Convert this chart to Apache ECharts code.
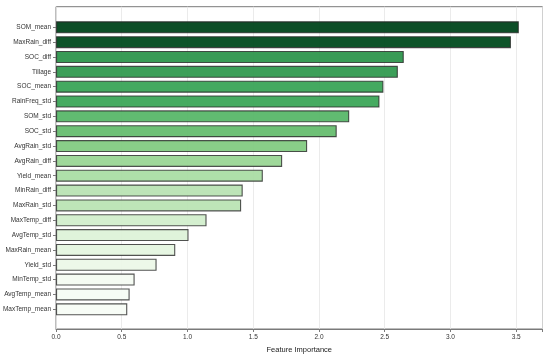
<!DOCTYPE html>
<html>
<head>
<meta charset="utf-8">
<script src="https://cdn.jsdelivr.net/npm/echarts@6/dist/echarts.min.js"></script>
<style>html,body{margin:0;padding:0;background:#fff}#c{width:550px;height:354px}</style>
</head>
<body>
<div id="c"></div>
<script>
const features = ["SOM_mean","MaxRain_diff","SOC_diff","Tillage","SOC_mean","RainFreq_std","SOM_std","SOC_std","AvgRain_std","AvgRain_diff","Yield_mean","MinRain_diff","MaxRain_std","MaxTemp_diff","AvgTemp_std","MaxRain_mean","Yield_std","MinTemp_std","AvgTemp_mean","MaxTemp_mean"];
const importance = [3.52,3.46,2.645,2.60,2.49,2.46,2.23,2.135,1.91,1.72,1.573,1.42,1.408,1.145,1.008,0.907,0.765,0.598,0.56,0.542];
const xTicks = [0,0.5,1.0,1.5,2.0,2.5,3.0,3.5];

const greens = ["#f7fcf5","#e5f5e0","#c7e9c0","#a1d99b","#74c476","#41ab5d","#238b45","#006d2c","#00441b"];
function hex2rgb(h){return [parseInt(h.slice(1,3),16),parseInt(h.slice(3,5),16),parseInt(h.slice(5,7),16)];}
function cmap(t){
  t=Math.max(0,Math.min(1,t));
  const p=t*(greens.length-1), i=Math.min(Math.floor(p),greens.length-2), f=p-i;
  const a=hex2rgb(greens[i]), b=hex2rgb(greens[i+1]);
  return a.map((v,k)=>Math.round(v+(b[k]-v)*f));
}
const vmin=Math.min(...importance), vmax=Math.max(...importance);
const barData = importance.map(v=>{
  const c=cmap((v-vmin)/(vmax-vmin));
  return {value:v,itemStyle:{color:`rgba(${c[0]},${c[1]},${c[2]},0.95)`}};
});

const FONT='"Liberation Sans", Arial, sans-serif';
const chart = echarts.init(document.getElementById('c'),null,{renderer:'canvas'});
chart.setOption({
  animation:false,
  backgroundColor:'#fff',
  grid:[
    {left:56,right:7.5,top:6.7,bottom:25,outerBoundsMode:'none',containLabel:false,show:true,borderColor:'#7a7a7a',borderWidth:1,backgroundColor:'transparent'},
    {left:56,right:7.5,top:19.9,bottom:37.3,outerBoundsMode:'none',containLabel:false}
  ],
  xAxis:[
    {type:'value',gridIndex:0,min:0,max:3.7,interval:0.5,
     name:'Feature Importance',nameLocation:'middle',nameGap:12,
     nameTextStyle:{fontFamily:FONT,fontSize:7.5,color:'#222'},
     axisLine:{show:true,lineStyle:{color:'#7a7a7a',width:1}},
     axisTick:{show:true,length:3,lineStyle:{color:'#7a7a7a'}},
     axisLabel:{fontFamily:FONT,fontSize:6.5,color:'#333',margin:5,
       formatter:v=>xTicks.some(t=>Math.abs(t-v)<1e-9)?v.toFixed(1):''},
     splitLine:{show:true,lineStyle:{color:'#e6e6e6',width:0.8}}},
    {type:'value',gridIndex:1,min:0,max:3.7,show:false}
  ],
  yAxis:[
    {type:'value',gridIndex:0,min:0,max:1,show:false},
    {type:'category',gridIndex:1,data:features,inverse:true,
     axisLine:{show:false},
     axisTick:{show:true,alignWithLabel:true,length:3,lineStyle:{color:'#7a7a7a'}},
     axisLabel:{fontFamily:FONT,fontSize:6.5,color:'#333',margin:5},
     splitLine:{show:false}}
  ],
  series:[{
    type:'bar',xAxisIndex:1,yAxisIndex:1,data:barData,barWidth:12,
    itemStyle:{borderColor:'rgba(40,40,40,0.8)',borderWidth:1.1}
  }]
});
</script>
</body>
</html>
